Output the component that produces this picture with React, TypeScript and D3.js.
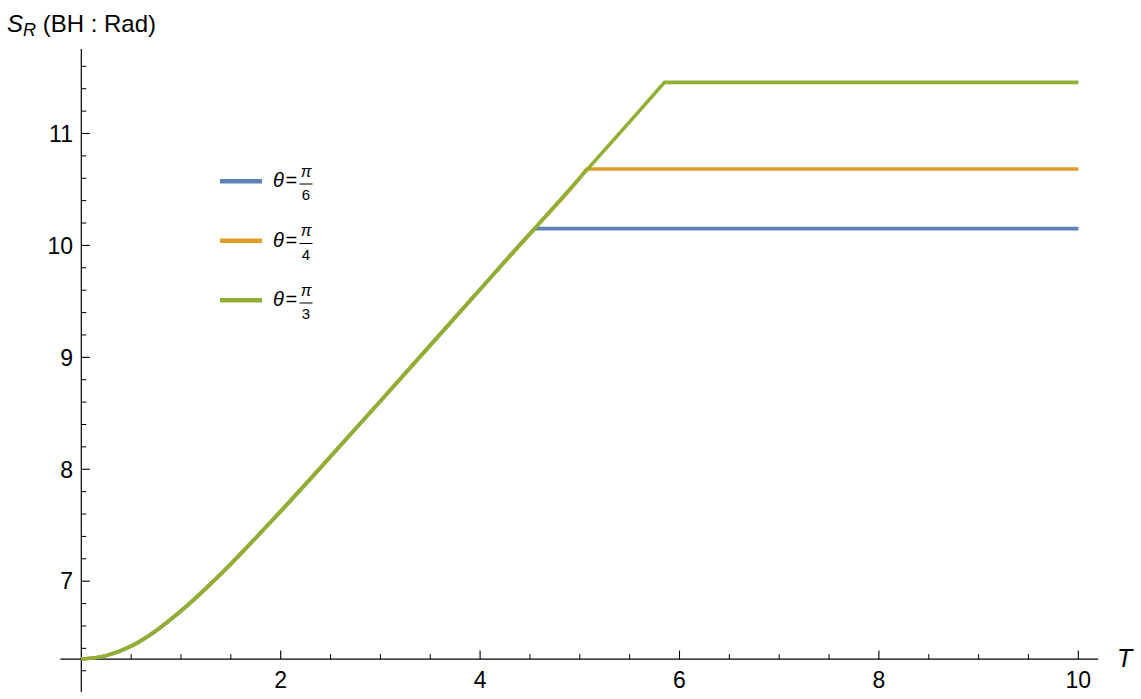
import React from 'react';
import * as d3 from 'd3';

// rising part shared by all three curves (T, S_R)
const riseT = [0, 0.25, 0.5, 0.75, 1, 1.25, 1.5, 1.75, 2, 2.5, 3, 3.5, 4, 4.5, 5, 5.5];
const riseS = [6.305, 6.335, 6.42, 6.558, 6.734, 6.936, 7.154, 7.387, 7.625, 8.114, 8.609, 9.108, 9.607, 10.104, 10.604, 11.104];

const seriesNames = ['θ=π/6', 'θ=π/4', 'θ=π/3'];
const denominators = ['6', '4', '3'];
const kinkT = [4.55, 5.07, 5.85];
const plateauS = [10.15, 10.683, 11.457];
const colors = ['#5E81B5', '#E19C24', '#8FB032'];

const xMajor = [2, 4, 6, 8, 10];
const xMinor = [0.5, 1, 1.5, 2.5, 3, 3.5, 4.5, 5, 5.5, 6.5, 7, 7.5, 8.5, 9, 9.5];
const yMajor = [7, 8, 9, 10, 11];
const yMinor = [6.2, 6.4, 6.6, 6.8, 7.2, 7.4, 7.6, 7.8, 8.2, 8.4, 8.6, 8.8, 9.2, 9.4, 9.6, 9.8, 10.2, 10.4, 10.6, 10.8, 11.2, 11.4, 11.6];

const W = 1141;
const H = 699;
const font = '"Liberation Sans", Arial, sans-serif';

export default function App() {
  const x = d3.scaleLinear().domain([0, 10]).range([81.3, 1078.3]);
  const y = d3.scaleLinear().domain([6.01, 11.755]).range([692, 49]);
  const axisY = 6.304; // where the horizontal axis crosses

  const line = d3.line<[number, number]>()
    .x(d => x(d[0]))
    .y(d => y(d[1]))
    .curve(d3.curveMonotoneX);

  const paths = seriesNames.map((_, i) => {
    const pts: [number, number][] = [];
    riseT.forEach((t, j) => {
      if (t < kinkT[i]) pts.push([t, riseS[j]]);
    });
    pts.push([kinkT[i], plateauS[i]]);
    return line(pts) + `L${x(10)},${y(plateauS[i])}`;
  });

  const y0 = y(axisY);
  const x0 = x(0);

  return (
    <svg width={W} height={H} style={{ position: 'absolute', left: 0, top: 0, background: '#fff' }}>
      {/* axes */}
      <line x1={x(-0.21)} x2={x(10.2)} y1={y0} y2={y0} stroke="#000" strokeWidth={1.2} />
      <line x1={x0} x2={x0} y1={y(6.01)} y2={y(11.755)} stroke="#000" strokeWidth={1.2} />

      {xMajor.map(t => (
        <g key={'xM' + t}>
          <line x1={x(t)} x2={x(t)} y1={y0} y2={y0 - 8.5} stroke="#000" strokeWidth={1.1} />
          <text x={x(t)} y={688} textAnchor="middle" fontFamily={font} fontSize={23} fill="#000">{t}</text>
        </g>
      ))}
      {xMinor.map(t => (
        <line key={'xm' + t} x1={x(t)} x2={x(t)} y1={y0} y2={y0 - 5} stroke="#000" strokeWidth={1} />
      ))}
      {yMajor.map(v => (
        <g key={'yM' + v}>
          <line x1={x0} x2={x0 + 8.5} y1={y(v)} y2={y(v)} stroke="#000" strokeWidth={1.1} />
          <text x={73} y={y(v)} dy="0.36em" textAnchor="end" fontFamily={font} fontSize={23} fill="#000">{v}</text>
        </g>
      ))}
      {yMinor.map(v => (
        <line key={'ym' + v} x1={x0} x2={x0 + 5} y1={y(v)} y2={y(v)} stroke="#000" strokeWidth={1} />
      ))}

      {/* axis labels */}
      <text x={1117} y={667} fontFamily={font} fontSize={25} fontStyle="italic" fill="#000">T</text>
      <text x={7} y={32} fontFamily={font} fontSize={24} fill="#000">
        <tspan fontStyle="italic">S</tspan>
        <tspan fontStyle="italic" fontSize={18} dy={4}>R</tspan>
        <tspan dy={-4}> (BH : Rad)</tspan>
      </text>

      {/* curves */}
      {paths.map((p, i) => (
        <path key={i} d={p} fill="none" stroke={colors[i]} strokeWidth={3.6} strokeLinejoin="miter" />
      ))}

      {/* legend */}
      {seriesNames.map((name, i) => {
        const ly = 181.3 + i * 59.5;
        return (
          <g key={name}>
            <line x1={220} x2={262} y1={ly} y2={ly} stroke={colors[i]} strokeWidth={4.6} />
            <text x={273} y={ly + 6} fontFamily={font} fontSize={20} fontStyle="italic" fill="#000">θ</text>
            <text x={285.5} y={ly + 6} fontFamily={font} fontSize={20} fill="#000">=</text>
            <text x={306} y={ly - 4.5} textAnchor="middle" fontFamily={font} fontSize={16} fontStyle="italic" fill="#000">π</text>
            <line x1={299.5} x2={312.5} y1={ly + 2.7} y2={ly + 2.7} stroke="#000" strokeWidth={1} />
            <text x={306} y={ly + 19} textAnchor="middle" fontFamily={font} fontSize={15} fill="#000">{denominators[i]}</text>
          </g>
        );
      })}
    </svg>
  );
}
